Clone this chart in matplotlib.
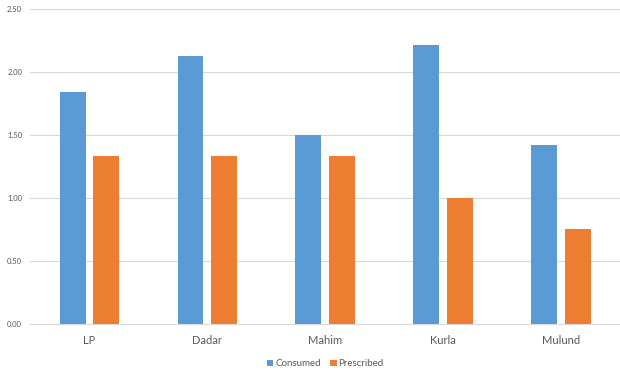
import matplotlib
matplotlib.use("Agg")
import matplotlib.pyplot as plt
import numpy as np

plt.rcParams['font.family'] = ['Lato', 'DejaVu Sans']

places = ["LP", "Dadar", "Mahim", "Kurla", "Mulund"]
consumed = [1.84, 2.13, 1.50, 2.21, 1.42]
prescribed = [1.33, 1.33, 1.33, 1.00, 0.75]
yticks = [0.0, 0.5, 1.0, 1.5, 2.0, 2.5]

fig = plt.figure(figsize=(6.2, 3.71), dpi=100)
ax = fig.add_axes([0.049, 0.127, 0.951, 0.849])

x = np.arange(len(places))
w = 0.22
off = 0.142
ax.bar(x - off, consumed, w, color="#5B9BD5", label="Consumed", zorder=3)
ax.bar(x + off, prescribed, w, color="#ED7D31", label="Prescribed", zorder=3)

ax.set_xlim(-0.5, len(places) - 0.5)
ax.set_ylim(0, 2.5)
ax.set_yticks(yticks)
ax.set_yticklabels([f"{v:.2f}" for v in yticks], fontsize=5.5, color="#595959")
ax.set_xticks(x)
ax.set_xticklabels(places, fontsize=8, color="#595959")
ax.tick_params(axis="both", length=0, pad=6)
ax.tick_params(axis="x", pad=8)
ax.grid(axis="y", color="#D9D9D9", linewidth=0.8, zorder=0)
for s in ["top", "right", "left"]:
    ax.spines[s].set_visible(False)
ax.spines["bottom"].set_color("#D9D9D9")
ax.spines["bottom"].set_linewidth(0.8)

leg = ax.legend(loc="upper center", bbox_to_anchor=(0.5, -0.085), ncol=2, frameon=False,
                fontsize=7, handlelength=0.7, handleheight=0.7, handletextpad=0.2,
                columnspacing=0.9)
for t in leg.get_texts():
    t.set_color("#595959")

fig.savefig("out.png", dpi=100)
